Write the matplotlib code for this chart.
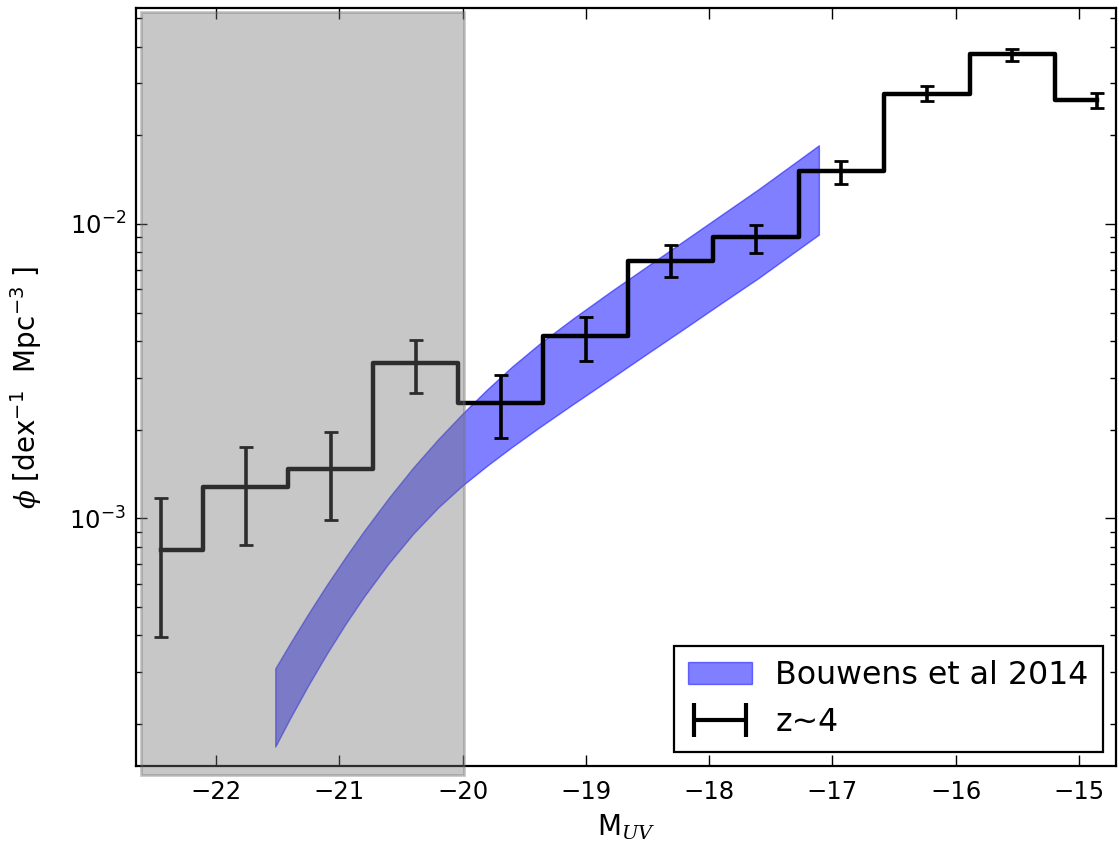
import numpy as np
import matplotlib
matplotlib.use("Agg")
import matplotlib.pyplot as plt
from matplotlib.patches import Rectangle
from matplotlib.legend_handler import HandlerErrorbar

plt.rcParams['mathtext.fontset'] = 'custom'
plt.rcParams['mathtext.rm'] = 'DejaVu Sans'
plt.rcParams['mathtext.it'] = 'DejaVu Serif:italic'
plt.rcParams['mathtext.bf'] = 'DejaVu Sans:bold'

# z~4 luminosity function (step + errors)
m_uv = [-22.45, -21.76, -21.07, -20.38, -19.69, -19.00, -18.31, -17.62, -16.93, -16.23, -15.54, -14.85]
phi = [7.8e-4, 1.28e-3, 1.47e-3, 3.37e-3, 2.47e-3, 4.16e-3, 7.5e-3, 9.0e-3, 1.51e-2, 2.77e-2, 3.78e-2, 2.64e-2]
phi_hi = [1.17e-3, 1.74e-3, 1.97e-3, 4.04e-3, 3.07e-3, 4.84e-3, 8.49e-3, 9.92e-3, 1.64e-2, 2.93e-2, 3.94e-2, 2.79e-2]
phi_lo = [3.96e-4, 8.1e-4, 9.87e-4, 2.67e-3, 1.87e-3, 3.43e-3, 6.59e-3, 7.95e-3, 1.37e-2, 2.61e-2, 3.59e-2, 2.47e-2]

# Bouwens et al 2014 band (upper / lower edge)
band_m = [-21.52, -21.4, -21.25, -21.1, -20.95, -20.8, -20.6, -20.4, -20.2, -20.0, -19.8,
          -19.6, -19.37, -19.1, -18.8, -18.5, -18.2, -17.9, -17.6, -17.35, -17.11]
band_hi = [3.090e-4, 3.758e-4, 4.753e-4, 5.957e-4, 7.379e-4, 9.057e-4, 1.172e-3, 1.489e-3,
           1.854e-3, 2.270e-3, 2.742e-3, 3.273e-3, 3.936e-3, 4.786e-3, 5.888e-3, 7.194e-3,
           8.790e-3, 1.074e-2, 1.312e-2, 1.563e-2, 1.850e-2]
band_lo = [1.675e-4, 2.089e-4, 2.716e-4, 3.475e-4, 4.375e-4, 5.420e-4, 7.031e-4, 8.872e-4,
           1.086e-3, 1.294e-3, 1.510e-3, 1.746e-3, 2.046e-3, 2.449e-3, 2.979e-3, 3.631e-3,
           4.416e-3, 5.383e-3, 6.546e-3, 7.790e-3, 9.200e-3]

# shaded (incomplete) region
shade_x = (-22.61, -19.985)
shade_y = (1.34e-4, 5.25e-2)

fig = plt.figure(figsize=(11.19, 8.51), dpi=100)
ax = fig.add_axes([0.1215, 0.0999, 0.8758, 0.8903])

ax.fill_between(band_m, band_lo, band_hi, color='b', alpha=0.5, lw=1,
                label='Bouwens et al 2014', zorder=1)

ax.step(m_uv, phi, where='mid', color='k', lw=3.2, zorder=2)
phi_arr = np.array(phi)
yerr = [phi_arr - np.array(phi_lo), np.array(phi_hi) - phi_arr]
ax.errorbar(m_uv, phi, yerr=yerr, fmt='none', ecolor='k', elinewidth=2.6,
            capsize=5, capthick=2, zorder=2)

# legend proxy for the data
proxy = ax.errorbar([np.nan], [np.nan], xerr=[1], fmt='none', ecolor='k',
                    elinewidth=3, capsize=12, capthick=3, label='z~4')

rect = Rectangle((shade_x[0], shade_y[0]), shade_x[1] - shade_x[0], shade_y[1] - shade_y[0],
                 facecolor=(0.45, 0.45, 0.45), edgecolor=(0.45, 0.45, 0.45),
                 alpha=0.4, lw=2, clip_on=False, zorder=3)
ax.add_patch(rect)

ax.set_yscale('log')
ax.set_xlim(-22.65, -14.7)
ax.set_ylim(1.44e-4, 5.4e-2)
ax.set_xticks([-22, -21, -20, -19, -18, -17, -16, -15])

ax.tick_params(which='both', direction='in', top=True, right=True, labelsize=17.5)
ax.tick_params(which='major', length=8, width=1)
ax.tick_params(axis='x', which='major', pad=10)
ax.tick_params(axis='y', which='major', pad=7)
ax.tick_params(which='minor', length=4, width=1)
for s in ax.spines.values():
    s.set_linewidth(1.6)

ax.set_xlabel('M$_{UV}$', fontsize=20, labelpad=6)
ax.set_ylabel('$\\phi$ [dex$^{-1}$  Mpc$^{-3}$ ]', fontsize=20, labelpad=18)

handles, labels = ax.get_legend_handles_labels()
leg = ax.legend(handles, labels, loc='lower right', bbox_to_anchor=(0.9867, 0.0185),
                borderaxespad=0, fontsize=22.8, fancybox=False, framealpha=1,
                edgecolor='k', handlelength=2.0, handletextpad=0.75, borderpad=0.45,
                handler_map={type(proxy): HandlerErrorbar(xerr_size=0.82)})
leg.get_frame().set_linewidth(1.6)
leg.set_zorder(5)

fig.savefig('out.png', dpi=100)
